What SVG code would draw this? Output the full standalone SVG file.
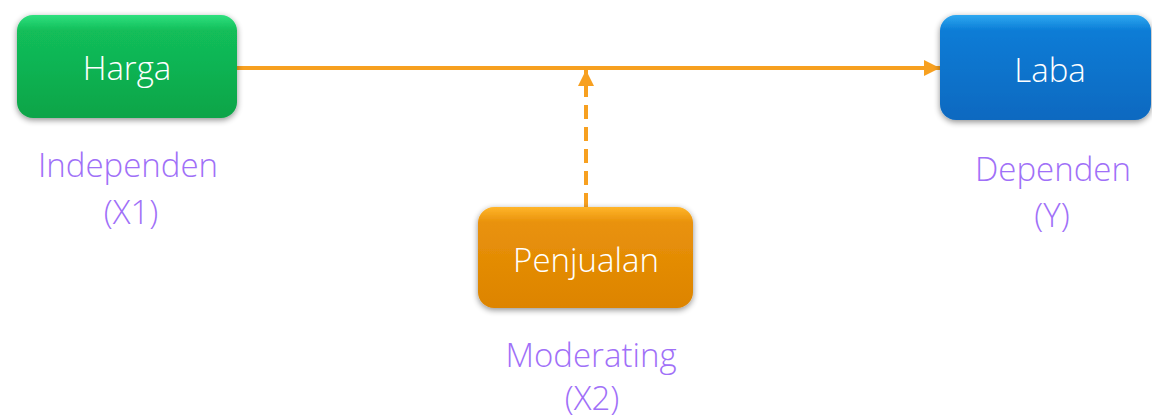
<svg xmlns="http://www.w3.org/2000/svg" width="1152" height="418" viewBox="0 0 1152 418">
<defs>
<linearGradient id="gG" x1="0" y1="0" x2="0" y2="1"><stop offset="0" stop-color="#2FE07E"/><stop offset="0.15" stop-color="#12BE5A"/><stop offset="1" stop-color="#0DA448"/></linearGradient>
<linearGradient id="gB" x1="0" y1="0" x2="0" y2="1"><stop offset="0" stop-color="#2FA8F0"/><stop offset="0.15" stop-color="#0A7CD6"/><stop offset="1" stop-color="#0869C0"/></linearGradient>
<linearGradient id="gO" x1="0" y1="0" x2="0" y2="1"><stop offset="0" stop-color="#FFB52A"/><stop offset="0.15" stop-color="#E9920A"/><stop offset="1" stop-color="#DD8400"/></linearGradient>
<filter id="sh" x="-10%" y="-15%" width="120%" height="135%"><feGaussianBlur in="SourceAlpha" stdDeviation="3"/><feOffset dy="2"/><feComponentTransfer><feFuncA type="linear" slope="0.45"/></feComponentTransfer><feMerge><feMergeNode/><feMergeNode in="SourceGraphic"/></feMerge></filter>
<marker id="ah" viewBox="0 0 10 10" refX="10" refY="5" markerWidth="4" markerHeight="4" orient="auto" markerUnits="strokeWidth"><path d="M0,0 L10,5 L0,10 z" fill="#F7A020"/></marker>
</defs>
<style>
.box{filter:url(#sh)}
.lbl{font-family:"Open Sans","Liberation Sans",sans-serif;font-weight:300;font-size:33px;fill:#FFFFFF;text-anchor:middle}
.cap{font-family:"Open Sans","Liberation Sans",sans-serif;font-weight:300;font-size:33px;fill:#A070F8;text-anchor:middle}
.conn{stroke:#F7A020;stroke-width:4;fill:none}
</style>
<g id="connectors">
<line class="conn" x1="237" y1="68" x2="940" y2="68" marker-end="url(#ah)"/>
<line class="conn" x1="586" y1="207" x2="586" y2="70" stroke-dasharray="14,8" marker-end="url(#ah)"/>
</g>
<g id="harga">
<rect class="box" x="17" y="15" width="220" height="103" rx="16" fill="url(#gG)"/>
<text class="lbl" x="127" y="80">Harga</text>
<text class="cap" x="128" y="177">Independen</text>
<text class="cap" x="131" y="224">(X1)</text>
</g>
<g id="laba">
<rect class="box" x="940" y="15" width="211" height="105" rx="16" fill="url(#gB)"/>
<text class="lbl" x="1050" y="82">Laba</text>
<text class="cap" x="1053" y="181">Dependen</text>
<text class="cap" x="1052" y="227">(Y)</text>
</g>
<g id="penjualan">
<rect class="box" x="478" y="207" width="215" height="101" rx="16" fill="url(#gO)"/>
<text class="lbl" x="586" y="272">Penjualan</text>
<text class="cap" x="591" y="367">Moderating</text>
<text class="cap" x="592" y="410">(X2)</text>
</g>
</svg>
